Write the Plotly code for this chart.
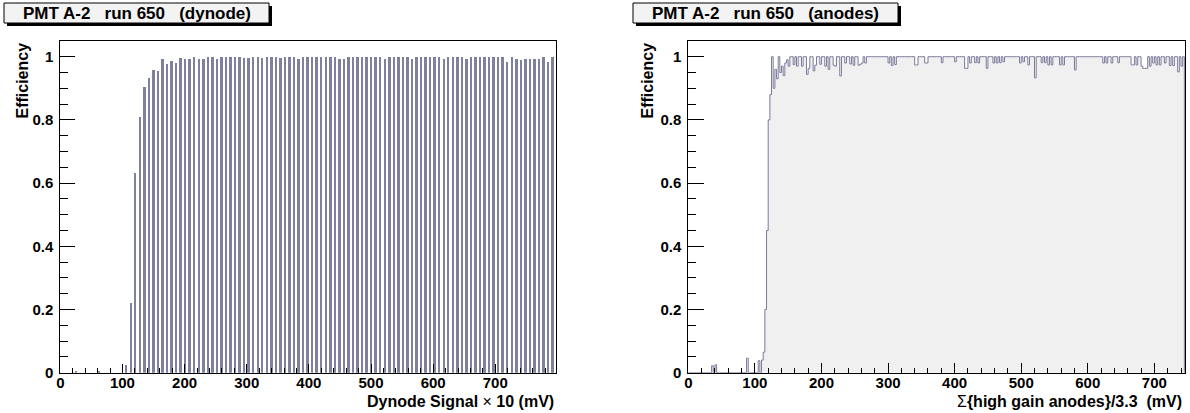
import numpy as np
import plotly.graph_objects as go

W, H = 1190, 413

# ---------------- data: left panel (dynode) ----------------
dynode_first_center = 26.2      # first bin centre (units of Dynode Signal x10)
dynode_step = 7.3               # spacing of populated bins
dynode_eff = [
    0.005, 0, 0, 0, 0, 0.005, 0, 0, 0, 0, 0, 0.024,
    0.22, 0.633, 0.81, 0.904, 0.932, 0.959, 0.956, 0.993, 0.978, 0.987,
    0.98, 0.997, 0.993, 0.993, 1.0, 0.993, 0.993, 1.0, 1.0, 0.993,
    1.0, 1.0, 1.0, 1.0, 1.0, 0.997, 0.997, 1.0, 1.0, 0.997,
    1.0, 1.0, 1.0, 0.997, 1.0, 1.0, 1.0, 0.993, 1.0, 1.0,
    1.0, 1.0, 1.0, 1.0, 1.0, 1.0, 0.995, 0.995, 1.0, 1.0,
    1.0, 1.0, 1.0, 1.0, 1.0, 1.0, 0.993, 1.0, 1.0, 1.0,
    1.0, 1.0, 0.995, 1.0, 1.0, 1.0, 1.0, 1.0, 1.0, 0.995,
    1.0, 1.0, 1.0, 1.0, 0.995, 1.0, 1.0, 1.0, 1.0, 1.0,
    1.0, 1.0, 1.0, 0.985, 1.0, 0.993, 0.99, 0.993, 0.993, 0.993,
    0.993, 1.0, 0.985, 1.0,
]
dynode_x = [dynode_first_center + dynode_step * i for i in range(len(dynode_eff))]

# ---------------- data: right panel (anodes) ----------------
anode_bin_width = 2.5
anode_x_max = 745.0
anode_plateau_start = 125.0   # efficiency ~1 from here on, except listed bins
anode_bin_lo = [
    35, 40, 87.5, 105, 110, 112.5, 115, 117.5, 120, 122.5,
    127.5, 130, 132.5, 137.5, 140, 142.5, 145, 147.5, 150, 157.5,
    162.5, 170, 177.5, 180, 187.5, 190, 197.5, 205, 210, 217.5,
    220, 227.5, 235, 242.5, 247.5, 255, 257.5, 260, 265, 300,
    305, 310, 340, 342.5, 355, 357.5, 380, 400, 415, 417.5,
    422.5, 430, 435, 447.5, 457.5, 462.5, 467.5, 472.5, 497.5, 502.5,
    510, 520, 530, 535, 540, 545, 557.5, 562.5, 580, 622.5,
    627.5, 635, 645, 665, 667.5, 672.5, 680, 682.5, 685, 687.5,
    692.5, 697.5, 702.5, 707.5, 715, 722.5, 727.5, 735, 740,
]
anode_bin_eff = [
    0.022, 0.025, 0.046, 0.038, 0.04, 0.065, 0.2, 0.45, 0.8, 0.88,
    0.9, 0.96, 0.93, 0.95, 0.97, 0.94, 0.98, 0.99, 0.97, 0.975,
    0.97, 0.97, 0.944, 0.963, 0.955, 0.973, 0.976, 0.97, 0.96, 0.973,
    0.97, 0.939, 0.98, 0.977, 0.973, 0.973, 0.976, 0.98, 0.98, 0.98,
    0.972, 0.975, 0.974, 0.974, 0.98, 0.98, 0.981, 0.984, 0.963, 0.963,
    0.98, 0.981, 0.98, 0.963, 0.98, 0.98, 0.981, 0.984, 0.98, 0.984,
    0.974, 0.933, 0.981, 0.981, 0.974, 0.974, 0.974, 0.974, 0.958, 0.98,
    0.98, 0.98, 0.981, 0.974, 0.974, 0.974, 0.97, 0.963, 0.963, 0.963,
    0.97, 0.98, 0.974, 0.974, 0.98, 0.972, 0.972, 0.952, 0.97,
]

# tick labels
x_tickvals = [0, 100, 200, 300, 400, 500, 600, 700]
y_tickvals = [0, 0.2, 0.4, 0.6, 0.8, 1.0]
x_ticktext = ["0", "100", "200", "300", "400", "500", "600", "700"]
y_ticktext = ["0", "0.2", "0.4", "0.6", "0.8", "1"]

edges = np.arange(0.0, anode_x_max, anode_bin_width)
anode_vals = np.where(edges >= anode_plateau_start, 1.0, 0.0)
for lo, v in zip(anode_bin_lo, anode_bin_eff):
    idx = int(round(lo / anode_bin_width))
    if 0 <= idx < len(anode_vals):
        anode_vals[idx] = v
step_x = list(edges) + [anode_x_max, anode_x_max]
step_y = list(anode_vals) + [anode_vals[-1], 0.0]

# ---------------- styling ----------------
BAR_COL = "#7f7f9e"
LINE_COL = "#7b7b9b"
FILL_COL = "#f0f0f0"
FONT = "Liberation Sans"


def px(x):
    return x / W


def py(y):
    return 1 - y / H


def bold(lst):
    return [f"<b>{t}</b>" for t in lst]


ydom = [py(372.7), py(40.7)]
fig = go.Figure()

fig.add_trace(go.Bar(x=dynode_x, y=dynode_eff, width=3.9, marker=dict(color=BAR_COL, line=dict(width=0)),
                     xaxis="x", yaxis="y", showlegend=False))
fig.add_trace(go.Scatter(x=step_x, y=step_y, mode="lines", line=dict(color=LINE_COL, width=1, shape="hv"),
                         fill="tozeroy", fillcolor=FILL_COL, xaxis="x2", yaxis="y2", showlegend=False))

axis_common = dict(
    showgrid=False, zeroline=False, showline=True, linecolor="black", linewidth=1, mirror=True,
    ticks="inside", tickcolor="black", tickwidth=1, automargin=False,
    tickfont=dict(family=FONT, size=15, color="black"),
)
xcommon = dict(tickmode="array", tickvals=x_tickvals, ticktext=bold(x_ticktext), ticklabelstandoff=-4, **axis_common)
ycommon = dict(tickmode="array", tickvals=y_tickvals, ticktext=bold(y_ticktext), ticklabelstandoff=3, **axis_common)

fig.update_layout(
    width=W, height=H, margin=dict(l=0, r=0, t=0, b=0),
    paper_bgcolor="white", plot_bgcolor="white", bargap=0,
    xaxis=dict(domain=[px(60.3), px(556)], range=[0, 797.7], anchor="y", ticklen=9,
               minor=dict(ticks="inside", ticklen=5, dtick=20, tickcolor="black"), **xcommon),
    yaxis=dict(domain=ydom, range=[0, 1.0506], anchor="x", ticklen=15,
               minor=dict(ticks="inside", ticklen=8, dtick=0.05, tickcolor="black"), **ycommon),
    xaxis2=dict(domain=[px(688.3), px(1185)], range=[0, 746], anchor="y2", ticklen=10,
                minor=dict(ticks="inside", ticklen=5, dtick=20, tickcolor="black"), **xcommon),
    yaxis2=dict(domain=ydom, range=[0, 1.0506], anchor="x2", ticklen=16,
                minor=dict(ticks="inside", ticklen=8, dtick=0.05, tickcolor="black"), **ycommon),
)

shapes = []
annotations = []
NB = "\u00a0"
for (x0, x1, label) in [(4, 269, f"PMT A-2{NB*3}run 650{NB*3}(dynode)"),
                        (633, 898, f"PMT A-2{NB*3}run 650{NB*3}(anodes)")]:
    shapes.append(dict(type="rect", xref="paper", yref="paper", x0=px(x0 + 3), x1=px(x1 + 3),
                       y0=py(26), y1=py(6), fillcolor="black", line=dict(width=0)))
    shapes.append(dict(type="rect", xref="paper", yref="paper", x0=px(x0), x1=px(x1),
                       y0=py(23), y1=py(3), fillcolor="#f3f3f3", line=dict(color="black", width=1)))
    annotations.append(dict(text=f"<b>{label}</b>", xref="paper", yref="paper", x=px((x0 + x1) / 2),
                            y=py(13.5), xanchor="center", yanchor="middle", showarrow=False,
                            font=dict(family=FONT, size=17, color="black")))

# axis titles
for xe in (22, 647):
    annotations.append(dict(text="<b>Efficiency</b>", textangle=-90, xref="paper", yref="paper", x=px(xe),
                            y=py(40.5), xanchor="center", yanchor="top", showarrow=False,
                            font=dict(family=FONT, size=16, color="black")))
annotations.append(dict(text=f"<b>Dynode Signal</b>{NB}\u00d7{NB}<b>10 (mV)</b>", xref="paper", yref="paper",
                        x=px(556), y=py(401), xanchor="right", yanchor="middle", showarrow=False,
                        font=dict(family=FONT, size=16, color="black")))
annotations.append(dict(text=f"\u03a3<b>{{high gain anodes}}/3.3{NB}{NB}(mV)</b>", xref="paper", yref="paper",
                        x=px(1184), y=py(401), xanchor="right", yanchor="middle", showarrow=False,
                        font=dict(family=FONT, size=16, color="black")))

fig.update_layout(shapes=shapes, annotations=annotations)
fig.write_html("out.html")
